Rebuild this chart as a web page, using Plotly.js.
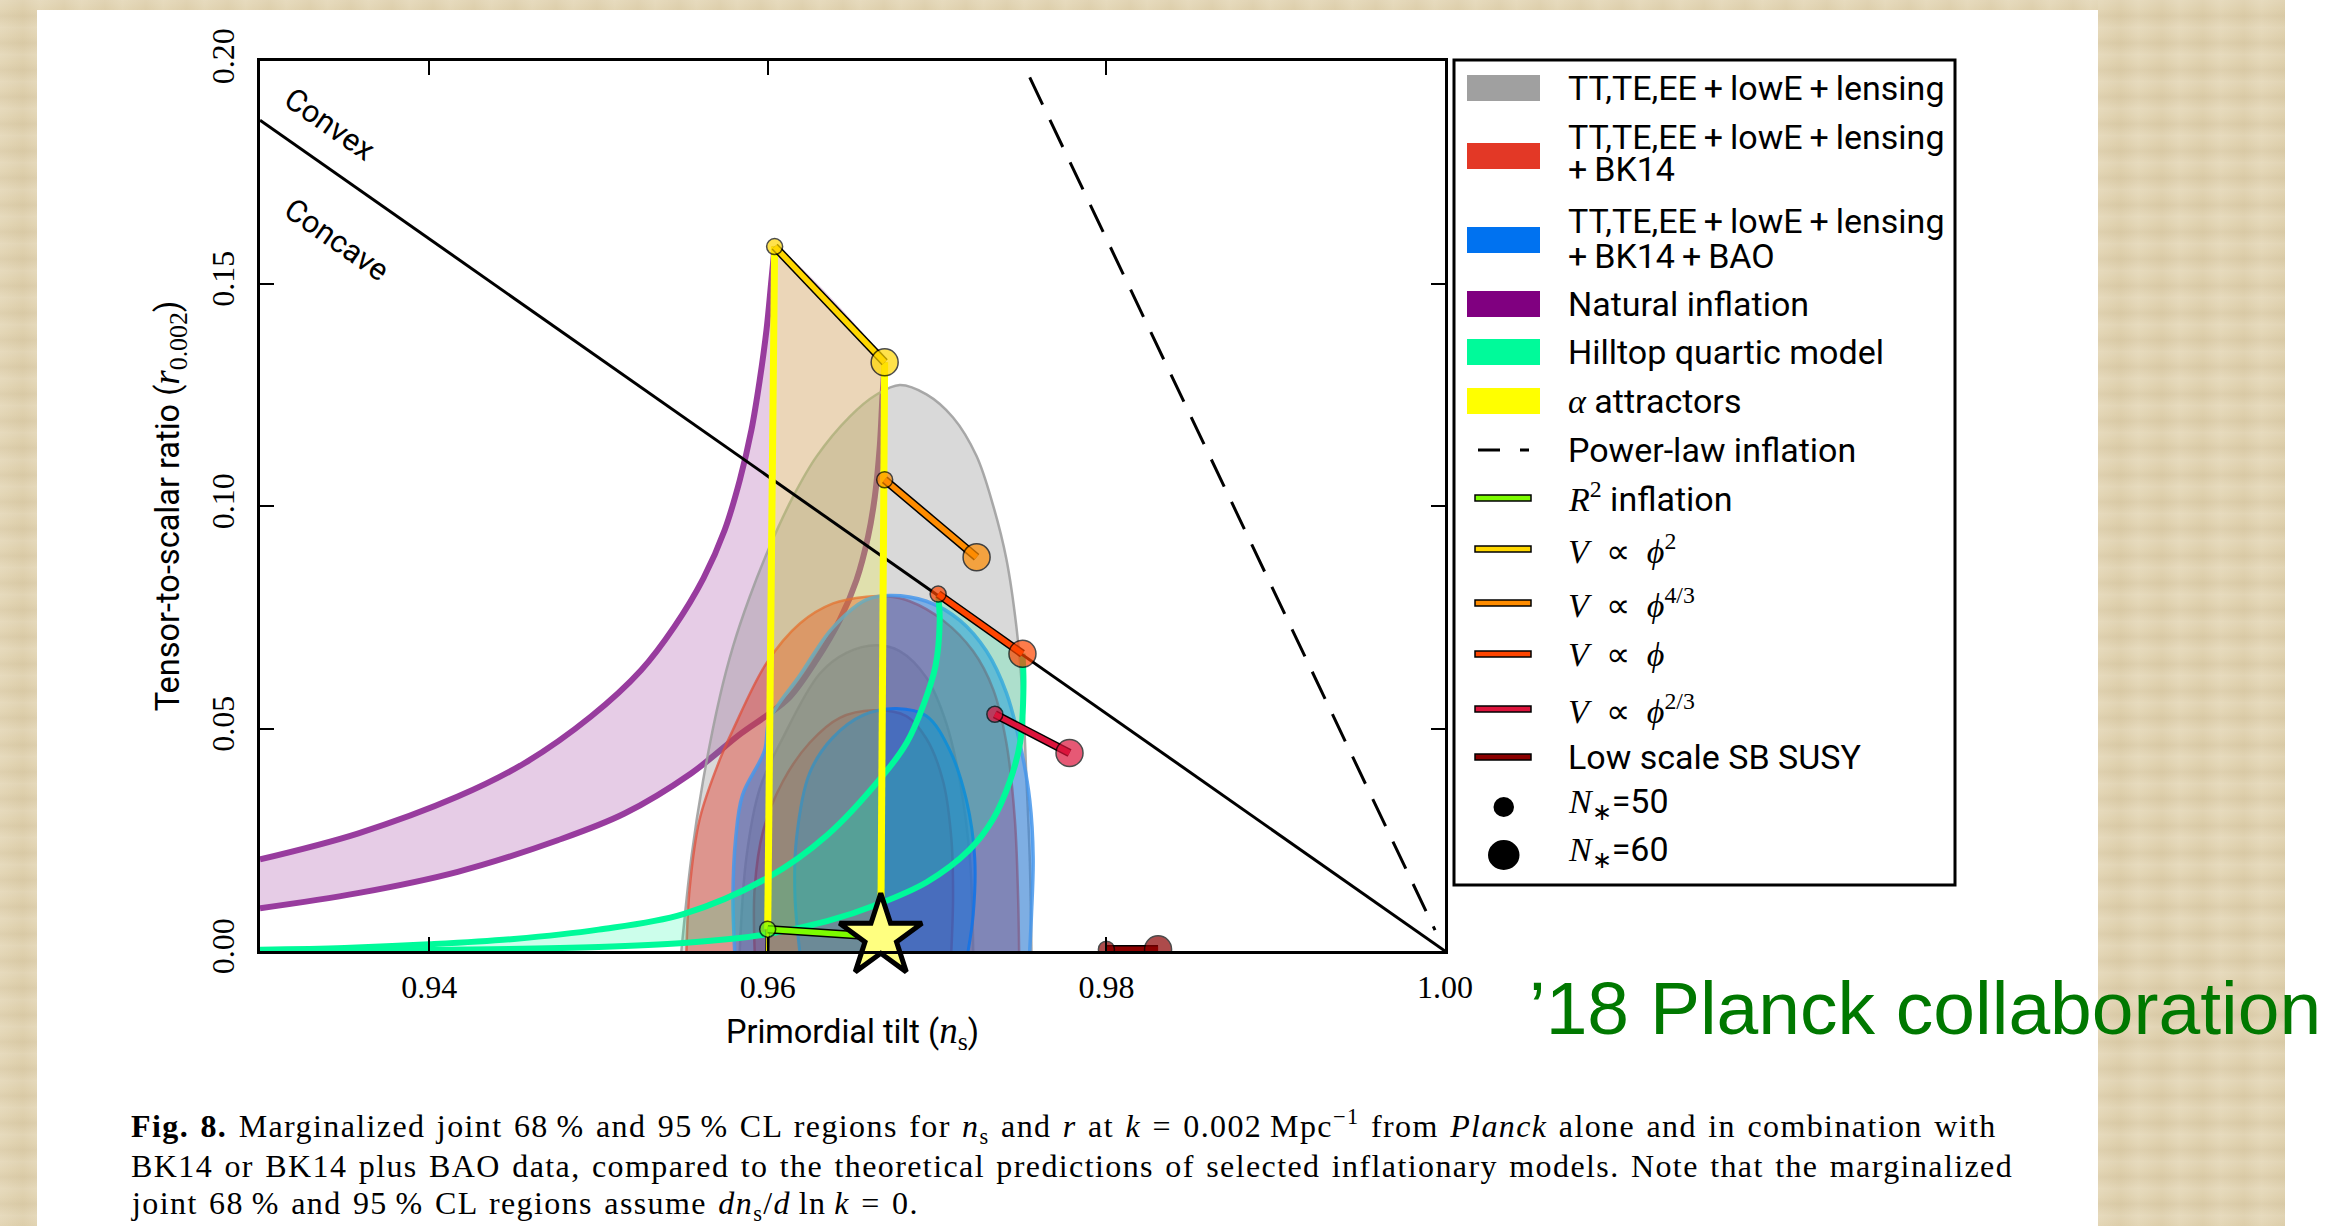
<!DOCTYPE html>
<html>
<head>
<meta charset="utf-8">
<script src="https://cdn.plot.ly/plotly-3.0.1.min.js"></script>
<style>
html,body{margin:0;padding:0;width:2341px;height:1226px;overflow:hidden;background:#fff;}
.paper{position:absolute;background:
  repeating-linear-gradient(180deg,rgba(255,255,255,0.10) 0px,rgba(255,255,255,0) 9px,rgba(120,90,40,0.05) 16px,rgba(255,255,255,0.08) 27px),
  repeating-linear-gradient(90deg,rgba(255,255,255,0.06) 0px,rgba(140,110,50,0.05) 23px,rgba(255,255,255,0.07) 41px),
  #e2d4b2;}
#white{position:absolute;left:37px;top:10px;width:2061px;height:1216px;background:#fff;}
#chart{position:absolute;left:0;top:0;width:2341px;height:1226px;}
</style>
</head>
<body>
<div class="paper" style="left:0;top:0;width:37px;height:1226px"></div>
<div class="paper" style="left:0;top:0;width:2098px;height:10px"></div>
<div class="paper" style="left:2098px;top:0;width:187px;height:1226px"></div>
<div id="white"></div>
<div id="chart"></div>
<script>
// ---------------- data ----------------
const nsTickVals = [0.94, 0.96, 0.98, 1.00];
const nsTickText = ['0.94', '0.96', '0.98', '1.00'];
const rTickVals = [0, 0.05, 0.10, 0.15, 0.20];
const rTickText = ['0.00', '0.05', '0.10', '0.15', '0.20'];

// TT,TE,EE+lowE+lensing (95% and 68% CL)
const grayOuterNs = [0.95489,0.95548,0.95617,0.95716,0.95794,0.95893,0.96011,0.96149,0.96287,0.96484,0.96640,0.96779,0.96937,0.97094,0.97232,0.97331,0.97409,0.97469,0.97508,0.97528,0.97547,0.97557];
const grayOuterR  = [0,0.0210,0.0382,0.0571,0.0684,0.0796,0.0909,0.1021,0.1111,0.1201,0.1250,0.1272,0.1251,0.1199,0.1113,0.1001,0.0881,0.0726,0.0554,0.0382,0.0210,0];
const grayInnerNs = [0.95834,0.95873,0.95952,0.96090,0.96306,0.96464,0.96641,0.96779,0.96937,0.97055,0.97134,0.97193,0.97213];
const grayInnerR  = [0,0.0210,0.0365,0.0480,0.0623,0.0670,0.0687,0.0674,0.0614,0.0511,0.0382,0.0210,0];
// +BK14
const redOuterNs = [0.95519,0.95538,0.95597,0.95716,0.95794,0.95992,0.96189,0.96385,0.96583,0.96700,0.96838,0.97035,0.97212,0.97331,0.97409,0.97459,0.97478,0.97484];
const redOuterR  = [0,0.0141,0.0296,0.0430,0.0497,0.0647,0.0736,0.0781,0.0796,0.0797,0.0786,0.0743,0.0674,0.0588,0.0468,0.0296,0.0124,0];
const redInnerNs = [0.95922,0.95922,0.95972,0.96090,0.96247,0.96425,0.96622,0.96818,0.96937,0.97035,0.97084,0.97094,0.97084];
const redInnerR  = [0,0.0141,0.0270,0.0382,0.0468,0.0524,0.0541,0.0528,0.0477,0.0382,0.0253,0.0124,0];
// +BK14+BAO
const blueOuterNs = [0.95804,0.95794,0.95810,0.95850,0.95980,0.96010,0.96190,0.96380,0.96580,0.96720,0.96937,0.97134,0.97291,0.97409,0.97488,0.97547,0.97567,0.97557,0.97547];
const blueOuterR  = [0,0.0124,0.0253,0.0350,0.0450,0.0520,0.0620,0.0725,0.0789,0.0799,0.0786,0.0743,0.0674,0.0580,0.0468,0.0339,0.0210,0.0081,0];
const blueInnerNs = [0.96188,0.96160,0.96169,0.96247,0.96385,0.96563,0.96760,0.96937,0.97075,0.97173,0.97222,0.97213,0.97183];
const blueInnerR  = [0,0.0124,0.0253,0.0400,0.0480,0.0530,0.0545,0.0528,0.0451,0.0339,0.0210,0.0081,0];

// Natural inflation band
const naturalUpperNs = [0.93000,0.93577,0.94168,0.94562,0.94955,0.95251,0.95448,0.95620,0.95745,0.95834,0.95903,0.95952,0.95992,0.96021,0.96040];
const naturalUpperR  = [0.0206,0.0264,0.0347,0.0422,0.0527,0.0631,0.0729,0.0838,0.0946,0.1058,0.1171,0.1283,0.1396,0.1508,0.1583];
const naturalLowerNs = [0.93000,0.93577,0.94168,0.94759,0.95153,0.95546,0.95842,0.95996,0.96130,0.96287,0.96425,0.96524,0.96592,0.96632,0.96661,0.96677,0.96690];
const naturalLowerR  = [0.0096,0.0130,0.0178,0.0249,0.0309,0.0399,0.0489,0.0530,0.0571,0.0654,0.0744,0.0834,0.0931,0.1021,0.1133,0.1246,0.1323];

// Hilltop quartic model band
const hilltopANs = [0.930,0.935,0.940,0.945,0.950,0.955,0.960,0.9635,0.9667,0.9682,0.9692,0.9699,0.97015,0.97006];
const hilltopAR  = [0.0003,0.0007,0.0015,0.0027,0.0048,0.0083,0.0165,0.0260,0.0390,0.0468,0.0554,0.0640,0.0740,0.0802];
const hilltopBNs = [0.930,0.940,0.950,0.955,0.960,0.9635,0.9665,0.9694,0.9719,0.9733,0.9743,0.9749,0.9751,0.97504];
const hilltopBR  = [0.0000,0.0002,0.0009,0.0018,0.0038,0.0067,0.0105,0.0155,0.0227,0.0296,0.0382,0.0468,0.0597,0.0668];

// alpha attractors
const alphaLeftNs  = [0.96040, 0.95999];
const alphaLeftR   = [0.1583, 0.0049];
const alphaLeftTailNs = [0.95999, 0.95997];
const alphaLeftTailR  = [0.0049, 0.0];
const alphaRightNs = [0.96690, 0.96667];
const alphaRightR  = [0.1323, 0.0032];
const alphaRegionNs = [0.95997, 0.96040, 0.96690, 0.96670];
const alphaRegionR  = [0.0, 0.1583, 0.1323, 0.0];

// convex / concave boundary and power-law inflation
const boundaryNs = [0.93, 1.00];
const boundaryR  = [0.1867, 0.0];
const powerLawNs = [0.97547, 0.99941];
const powerLawR  = [0.1963, 0.0047];

// model predictions at N*=50 and N*=60
const modelNames = ['V ∝ ϕ²', 'V ∝ ϕ^4/3', 'V ∝ ϕ', 'V ∝ ϕ^2/3', 'Low scale SB SUSY', 'R² inflation'];
const modelNs50 = [0.96040, 0.96690, 0.97006, 0.97341, 0.98000, 0.95999];
const modelR50  = [0.1583, 0.1059, 0.0802, 0.0532, 0.0004, 0.0049];
const modelNs60 = [0.96690, 0.97233, 0.97504, 0.97782, 0.98305, 0.96667];
const modelR60  = [0.1323, 0.0885, 0.0668, 0.0445, 0.0004, 0.0032];
const starNs = [0.96667];
const starR  = [0.0032];

// text
const serif = s => '<span style="font-family:Liberation Serif">' + s + '</span>';
const P = '\u2009+\u2009';
const legendLines = [
  'TT,TE,EE' + P + 'lowE' + P + 'lensing',
  'TT,TE,EE' + P + 'lowE' + P + 'lensing', '+\u2009BK14',
  'TT,TE,EE' + P + 'lowE' + P + 'lensing', '+\u2009BK14' + P + 'BAO',
  'Natural inflation',
  'Hilltop quartic model',
  serif('<i>α</i>') + ' attractors',
  'Power-law inflation',
  serif('<i>R</i><sup>2</sup>') + ' inflation',
  serif('<i>V</i>  ∝  <i>ϕ</i><sup>2</sup>'),
  serif('<i>V</i>  ∝  <i>ϕ</i><sup>4/3</sup>'),
  serif('<i>V</i>  ∝  <i>ϕ</i>'),
  serif('<i>V</i>  ∝  <i>ϕ</i><sup>2/3</sup>'),
  'Low scale SB SUSY',
  serif('<i>N</i><sub>∗</sub>') + '=50',
  serif('<i>N</i><sub>∗</sub>') + '=60'
];
const captionLines = [
  '<b>Fig. 8.</b> Marginalized joint 68\u2009% and 95\u2009% CL regions for <i>n</i><sub>s</sub> and <i>r</i> at <i>k</i> = 0.002\u2009Mpc<sup>−1</sup> from <i>Planck</i> alone and in combination with',
  'BK14 or BK14 plus BAO data, compared to the theoretical predictions of selected inflationary models. Note that the marginalized',
  'joint 68\u2009% and 95\u2009% CL regions assume <i>dn</i><sub>s</sub>/<i>d</i>\u2009ln\u2009<i>k</i> = 0.'
];
const creditText = '’18 Planck collaboration';

// ---------------- styles / geometry ----------------
const PL = 260, PR = 1445, PT = 61, PB = 951;
const px = x => (x - PL) / (PR - PL);
const py = y => (PB - y) / (PB - PT);

const purple = 'rgb(152,60,158)';
const modelColors = ['#ffd700', '#ff8c00', '#ff4500', '#dc143c', '#8b0000', '#7cfc00'];

const traces = [];
function region(xs, ys, fill, lineColor, lineWidth, smooth) {
  traces.push({type: 'scatter', mode: 'lines', x: xs, y: ys, fill: 'toself', fillcolor: fill,
    line: {color: lineColor || 'rgba(0,0,0,0)', width: lineWidth || 0, shape: smooth ? 'spline' : 'linear', smoothing: smooth || 0},
    hoverinfo: 'skip', showlegend: false});
}
function line(xs, ys, color, width, dash, smooth) {
  traces.push({type: 'scatter', mode: 'lines', x: xs, y: ys,
    line: {color: color, width: width, dash: dash || 'solid', shape: smooth ? 'spline' : 'linear', smoothing: smooth || 0},
    hoverinfo: 'skip', showlegend: false});
}

// Natural inflation
region(naturalUpperNs.concat(naturalLowerNs.slice().reverse()), naturalUpperR.concat(naturalLowerR.slice().reverse()), 'rgba(128,0,128,0.2)', null, 0, 0.6);
line(naturalUpperNs, naturalUpperR, purple, 6, null, 1);
line(naturalLowerNs, naturalLowerR, purple, 6, null, 1);

// data contours
region(grayOuterNs, grayOuterR, 'rgba(128,128,128,0.30)', 'rgba(160,160,160,0.9)', 2.5, 1);
region(grayInnerNs, grayInnerR, 'rgba(128,128,128,0.30)', 'rgba(165,165,165,0.9)', 2.5, 1);
region(redOuterNs, redOuterR, 'rgba(227,56,38,0.42)', 'rgba(222,80,60,0.75)', 2.5, 1);
region(redInnerNs, redInnerR, 'rgba(227,56,38,0.42)', 'rgba(215,50,35,0.85)', 2.5, 1);
region(blueOuterNs, blueOuterR, 'rgba(0,114,240,0.42)', 'rgba(70,150,235,0.85)', 3.5, 1);
region(blueInnerNs, blueInnerR, 'rgba(0,114,240,0.42)', 'rgba(20,115,230,0.9)', 3, 1);

// alpha attractor region
region(alphaRegionNs, alphaRegionR, 'rgba(255,255,0,0.2)');

// hilltop
region(hilltopANs.concat(hilltopBNs.slice().reverse()), hilltopAR.concat(hilltopBR.slice().reverse()), 'rgba(0,250,154,0.2)', null, 0, 0.6);
line(hilltopANs, hilltopAR, '#00fa9a', 6, null, 1);
line(hilltopBNs, hilltopBR, '#00fa9a', 6, null, 1);

// convex/concave + power law
line(boundaryNs, boundaryR, '#000', 3);
line(powerLawNs, powerLawR, '#000', 3, '30px,17px');

// alpha attractor lines
line(alphaLeftTailNs, alphaLeftTailR, '#222', 4.5);
line(alphaLeftTailNs, alphaLeftTailR, '#ffff00', 2.5);
line(alphaLeftNs, alphaLeftR, '#ffff00', 7);
line(alphaRightNs, alphaRightR, '#ffff00', 7);

// model segments
for (let i = 0; i < modelNames.length; i++) {
  const xs = [modelNs50[i], modelNs60[i]], ys = [modelR50[i], modelR60[i]];
  line(xs, ys, '#000', 8.5);
  line(xs, ys, modelColors[i], 5.5);
  traces.push({type: 'scatter', mode: 'markers', x: xs, y: ys, hoverinfo: 'skip', showlegend: false,
    marker: {size: [16, 27], color: modelColors[i], line: {color: '#000', width: 1.5}}});
}
// star
traces.push({type: 'scatter', mode: 'markers', x: starNs, y: starR, cliponaxis: false, hoverinfo: 'skip', showlegend: false,
  marker: {symbol: 'star', size: 62, color: '#ffff80', line: {color: '#000', width: 5}}});

// ---------------- annotations & shapes ----------------
const annotations = [];
const shapes = [];

annotations.push({xref: 'x', yref: 'y', x: 0.93415, y: 0.1858, text: 'Convex', showarrow: false, textangle: 35,
  font: {family: 'Roboto', size: 31, color: '#000'}});
annotations.push({xref: 'x', yref: 'y', x: 0.93450, y: 0.1598, text: 'Concave', showarrow: false, textangle: 35,
  font: {family: 'Roboto', size: 31, color: '#000'}});

// legend
shapes.push({type: 'rect', xref: 'paper', yref: 'paper', x0: px(1454), x1: px(1955), y0: py(885), y1: py(60),
  line: {color: '#000', width: 3}, fillcolor: '#fff', layer: 'above'});
const legendY = [88, 137, 169, 221, 256, 304, 352, 401, 450, 498, 549, 603, 654, 709, 757, 803, 851];
legendLines.forEach((t, i) => {
  annotations.push({xref: 'paper', yref: 'paper', x: px(1566), y: py(legendY[i]), xanchor: 'left', yanchor: 'middle',
    text: t, showarrow: false, font: {family: 'Roboto', size: 34, color: '#000'}});
});
const fillSwatchY = [88, 156, 240, 304, 352, 401];
const fillSwatchC = ['#a0a0a0', '#e33826', '#0072f0', '#800080', '#00fa9a', '#ffff00'];
fillSwatchY.forEach((y, i) => {
  shapes.push({type: 'rect', xref: 'paper', yref: 'paper', x0: px(1467), x1: px(1540), y0: py(y + 13), y1: py(y - 13),
    line: {width: 0}, fillcolor: fillSwatchC[i], layer: 'above'});
});
shapes.push({type: 'line', xref: 'paper', yref: 'paper', x0: px(1478), x1: px(1500), y0: py(450), y1: py(450), line: {color: '#000', width: 3}});
shapes.push({type: 'line', xref: 'paper', yref: 'paper', x0: px(1520), x1: px(1529), y0: py(450), y1: py(450), line: {color: '#000', width: 3}});
const lineSwatchY = [498, 549, 603, 654, 709, 757];
const lineSwatchC = ['#7cfc00', '#ffd700', '#ff8c00', '#ff4500', '#dc143c', '#8b0000'];
lineSwatchY.forEach((y, i) => {
  shapes.push({type: 'rect', xref: 'paper', yref: 'paper', x0: px(1475), x1: px(1531), y0: py(y + 3), y1: py(y - 3),
    line: {color: '#000', width: 1.5}, fillcolor: lineSwatchC[i], layer: 'above'});
});
shapes.push({type: 'circle', xref: 'paper', yref: 'paper', x0: px(1493.5), x1: px(1514), y0: py(817), y1: py(797), fillcolor: '#000', line: {width: 0}});
shapes.push({type: 'circle', xref: 'paper', yref: 'paper', x0: px(1488), x1: px(1519.5), y0: py(870), y1: py(840), fillcolor: '#000', line: {width: 0}});

// caption
const captionY = [1126, 1166, 1205];
captionLines.forEach((t, i) => {
  annotations.push({xref: 'paper', yref: 'paper', x: px(129), y: py(captionY[i]), xanchor: 'left', yanchor: 'middle',
    text: '<span style="letter-spacing:1.4px;word-spacing:2px">' + t + '</span>', showarrow: false,
    font: {family: 'Liberation Serif', size: 32, color: '#000'}});
});
// credit
annotations.push({xref: 'paper', yref: 'paper', x: px(1527), y: py(1008), xanchor: 'left', yanchor: 'middle',
  text: creditText, showarrow: false, font: {family: 'Liberation Sans', size: 75, color: '#007800'}});

const layout = {
  width: 2341, height: 1226,
  margin: {l: PL, r: 2341 - PR, t: PT, b: 1226 - PB, pad: 0},
  paper_bgcolor: 'rgba(0,0,0,0)', plot_bgcolor: '#fff',
  showlegend: false,
  font: {family: 'Roboto', color: '#000'},
  xaxis: {
    range: [0.93, 1.0], tickmode: 'array', tickvals: nsTickVals, ticktext: nsTickText,
    ticks: 'inside', ticklen: 14, tickwidth: 2, tickcolor: '#000',
    showline: true, linewidth: 3, linecolor: '#000', mirror: 'ticks',
    showgrid: false, zeroline: false, automargin: false,
    tickfont: {family: 'Liberation Serif', size: 32, color: '#000'}, ticklabelstandoff: 6,
    title: {text: 'Primordial tilt (<span style="font-family:Liberation Serif;font-size:37px"><i>n</i><sub>s</sub></span>)',
      font: {family: 'Roboto', size: 32.5, color: '#000'}, standoff: 16}
  },
  yaxis: {
    range: [0, 0.2], tickmode: 'array', tickvals: rTickVals, ticktext: rTickText, tickangle: -90,
    ticks: 'inside', ticklen: 14, tickwidth: 2, tickcolor: '#000',
    showline: true, linewidth: 3, linecolor: '#000', mirror: 'ticks',
    showgrid: false, zeroline: false, automargin: false,
    tickfont: {family: 'Liberation Serif', size: 32, color: '#000'}, ticklabelstandoff: 10,
    title: {text: 'Tensor-to-scalar ratio (<span style="font-family:Liberation Serif;font-size:37px"><i>r</i><sub>0.002</sub></span>)',
      font: {family: 'Roboto', size: 32.5, color: '#000'}, standoff: 16}
  },
  annotations: annotations,
  shapes: shapes
};

Plotly.newPlot('chart', traces, layout, {displayModeBar: false, staticPlot: true});
</script>
</body>
</html>
